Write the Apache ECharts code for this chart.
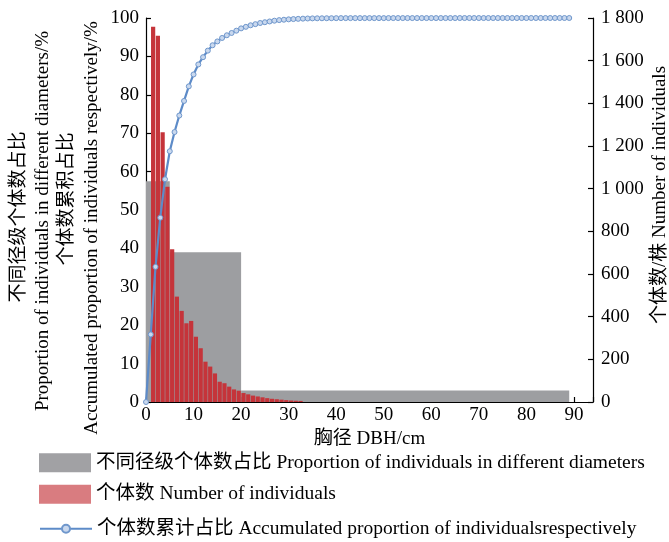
<!DOCTYPE html>
<html>
<head>
<meta charset="utf-8">
<script src="https://cdn.jsdelivr.net/npm/echarts@6/dist/echarts.min.js"></script>
<style>html,body{margin:0;padding:0;background:#fff}#c{width:669px;height:542px}</style>
</head>
<body>
<div id="c"></div>
<script>
// ---- data ----
// gray bars: DBH class start, end (cm) and proportion (%)
var classStart = [0, 5, 20];
var classEnd = [5, 20, 89];
var classProportion = [57.5, 39, 3];

// red bars: 1 cm DBH bins starting at these values, number of individuals
var binStart = [1,2,3,4,5,6,7,8,9,10,11,12,13,14,15,16,17,18,19,20,21,22,23,24,25,26,27,28,29,30,31,32];
var binCount = [1759,1717,1264,1009,716,494,427,369,380,306,252,189,166,134,95,88,72,59,53,42,36,30,26,22,18,15,13,11,9,7,6,5];

// cumulative proportion (%) at each DBH (cm)
var cumDBH = [0,1,2,3,4,5,6,7,8,9,10,11,12,13,14,15,16,17,18,19,20,21,22,23,24,25,26,27,28,29,
  30,31,32,33,34,35,36,37,38,39,40,41,42,43,44,45,46,47,48,49,50,51,52,53,54,55,56,57,58,59,
  60,61,62,63,64,65,66,67,68,69,70,71,72,73,74,75,76,77,78,79,80,81,82,83,84,85,86,87,88,89];
var cumPercent = [0,17.6,35.2,48,58,65.3,70.3,74.6,78.4,82.2,85.3,87.9,89.8,91.5,92.9,93.9,94.8,95.5,96.1,96.7,
  97.3,97.7,98.1,98.4,98.7,98.9,99.1,99.3,99.45,99.55,99.65,99.72,99.78,99.83,99.87,99.9,99.92,99.93,99.94,99.95,
  99.96,99.97,99.97,99.97,99.97,99.97,99.97,99.97,99.97,99.97,99.97,99.98,99.98,99.98,99.98,99.98,99.98,99.98,99.98,99.98,
  99.98,99.98,99.98,99.98,99.98,99.98,99.99,99.99,99.99,99.99,99.99,99.99,99.99,99.99,99.99,99.99,99.99,99.99,99.99,99.99,
  99.99,100,100,100,100,100,100,100,100,100];

var leftTicks = ['0','10','20','30','40','50','60','70','80','90','100'];
var rightTicks = ['0','200','400','600','800','1 000','1 200','1 400','1 600','1 800'];
var xTicks = ['0','10','20','30','40','50','60','70','80','90'];

var seriesNames = [
  '不同径级个体数占比 Proportion of individuals in different diameters',
  '个体数 Number of individuals',
  '个体数累计占比 Accumulated proportion of individualsrespectively'
];

// ---- build ----
var FONT = "'Liberation Serif', 'Noto Sans CJK SC', serif";
var FS = 19;
var grayData = classStart.map(function(s, i){ return [s, classEnd[i], classProportion[i]]; });
var redData = binStart.map(function(s, i){ return [s + 0.5, binCount[i]]; });
var lineData = cumDBH.map(function(d, i){ return [d, cumPercent[i]]; });

var chart = echarts.init(document.getElementById('c'), null, {renderer: 'canvas'});
var axisLineStyle = {color: '#000', width: 1.2};
var legendText = {fontFamily: FONT, fontSize: 19.5, color: '#000'};
chart.setOption({
  animation: false,
  backgroundColor: '#fff',
  grid: {left: 146, right: 76, top: 18, bottom: 140, containLabel: false},
  legend: [{
    orient: 'vertical', left: 39, top: 453, padding: 0, itemWidth: 52, itemHeight: 19, itemGap: 12,
    textStyle: legendText,
    data: [
      {name: seriesNames[0], icon: 'rect', itemStyle: {color: '#a1a1a4'}},
      {name: seriesNames[1], icon: 'rect', itemStyle: {color: '#d97c80'}}
    ]
  }, {
    orient: 'vertical', left: 39, top: 519, padding: 0, itemWidth: 52, itemHeight: 10,
    textStyle: legendText,
    data: [seriesNames[2]]
  }],
  xAxis: {
    type: 'value', min: 0, max: 94, interval: 5,
    name: '胸径 DBH/cm', nameLocation: 'middle', nameGap: 25,
    nameTextStyle: {fontFamily: FONT, fontSize: FS, color: '#000'},
    axisLine: {show: true, onZero: false, lineStyle: axisLineStyle},
    axisTick: {show: true, inside: true, length: 5, lineStyle: axisLineStyle},
    axisLabel: {fontFamily: FONT, fontSize: FS, color: '#000', margin: 4,
      formatter: function(v){ var i = xTicks.indexOf(String(v)); return i >= 0 ? xTicks[i] : ''; }},
    splitLine: {show: false}
  },
  yAxis: [{
    type: 'value', min: 0, max: 100, interval: 10,
    axisLine: {show: true, lineStyle: axisLineStyle},
    axisTick: {show: true, inside: true, length: 5, lineStyle: axisLineStyle},
    axisLabel: {fontFamily: FONT, fontSize: FS, color: '#000', margin: 7,
      formatter: function(v){ return leftTicks[Math.round(v/10)]; }},
    splitLine: {show: false}
  }, {
    type: 'value', min: 0, max: 1800, interval: 200, position: 'right',
    axisLine: {show: true, lineStyle: axisLineStyle},
    axisTick: {show: true, inside: true, length: 5, lineStyle: axisLineStyle},
    axisLabel: {fontFamily: FONT, fontSize: FS, color: '#000', margin: 8,
      formatter: function(v){ return rightTicks[Math.round(v/200)]; }},
    splitLine: {show: false}
  }],
  series: [{
    name: seriesNames[0], type: 'custom', yAxisIndex: 0, z: 1,
    itemStyle: {color: '#9d9ea1'},
    encode: {x: [0, 1], y: 2},
    renderItem: function(params, api){
      var p0 = api.coord([api.value(0), api.value(2)]);
      var p1 = api.coord([api.value(1), 0]);
      return {type: 'rect', shape: {x: p0[0], y: p0[1], width: p1[0]-p0[0], height: p1[1]-p0[1]},
        style: {fill: '#9d9ea1'}};
    },
    data: grayData
  }, {
    name: seriesNames[1], type: 'bar', yAxisIndex: 1, z: 2,
    barWidth: 4.2, itemStyle: {color: '#c5343a'},
    data: redData
  }, {
    name: seriesNames[2], type: 'line', yAxisIndex: 0, z: 3,
    smooth: false, symbol: 'circle', symbolSize: 5,
    lineStyle: {color: '#5d8bc8', width: 2.2},
    itemStyle: {color: '#c9d8ee', borderColor: '#6f97cc', borderWidth: 1},
    data: lineData
  }],
  graphic: [
    {type: 'text', x: 19, y: 217, rotation: Math.PI/2, style: {text: '不同径级个体数占比', font: FS + 'px ' + FONT, fill: '#000', align: 'center', verticalAlign: 'middle'}},
    {type: 'text', x: 43, y: 221, rotation: Math.PI/2, style: {text: 'Proportion of individuals in different diameters/%', font: FS + 'px ' + FONT, fill: '#000', align: 'center', verticalAlign: 'middle'}},
    {type: 'text', x: 67, y: 199, rotation: Math.PI/2, style: {text: '个体数累积占比', font: FS + 'px ' + FONT, fill: '#000', align: 'center', verticalAlign: 'middle'}},
    {type: 'text', x: 92, y: 228, rotation: Math.PI/2, style: {text: 'Accumulated proportion of individuals respectively/%', font: FS + 'px ' + FONT, fill: '#000', align: 'center', verticalAlign: 'middle'}},
    {type: 'text', x: 660, y: 195, rotation: Math.PI/2, style: {text: '个体数/株 Number of individuals', font: FS + 'px ' + FONT, fill: '#000', align: 'center', verticalAlign: 'middle'}}
  ]
});
</script>
</body>
</html>
